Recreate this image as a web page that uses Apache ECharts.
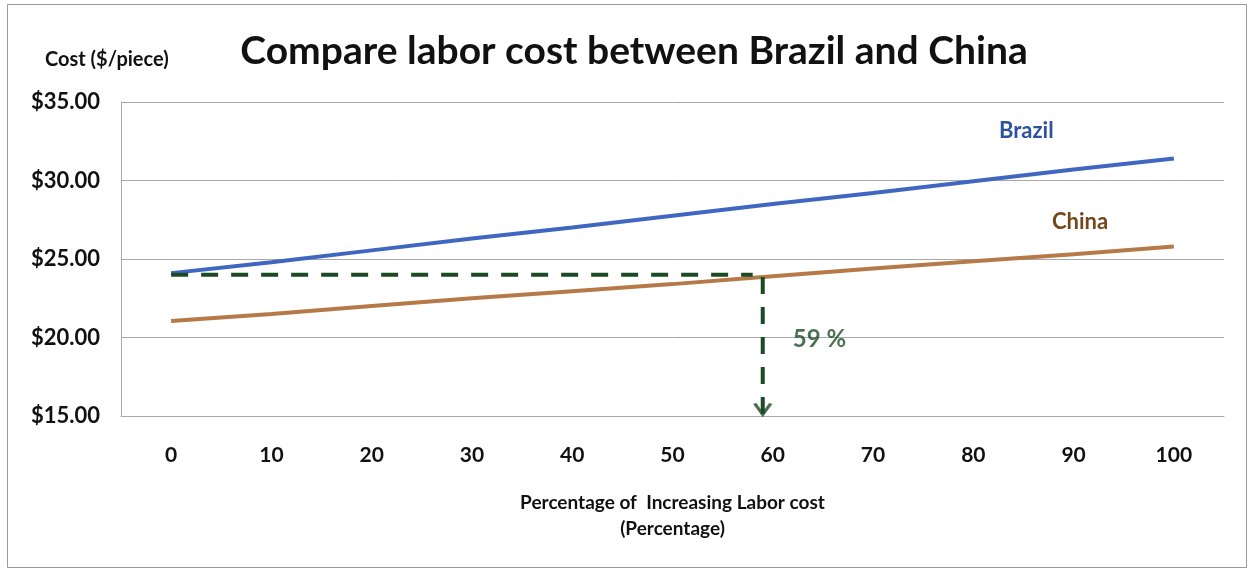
<!DOCTYPE html>
<html>
<head>
<meta charset="utf-8">
<script src="https://cdn.jsdelivr.net/npm/echarts@6/dist/echarts.min.js"></script>
<style>
  html, body { margin: 0; padding: 0; background: #ffffff; }
  #chart { width: 1249px; height: 571px; }
</style>
</head>
<body>
<div id="chart"></div>
<script>
// Increase of labor cost, in percent
const categories = ['0', '10', '20', '30', '40', '50', '60', '70', '80', '90', '100'];
// Cost per piece ($) at each increase step
const brazilCost = [24.1, 24.8, 25.55, 26.3, 27.0, 27.75, 28.5, 29.2, 29.95, 30.7, 31.4];
const chinaCost = [21.05, 21.5, 22.0, 22.5, 22.95, 23.4, 23.9, 24.4, 24.85, 25.3, 25.8];
// Break-even guide: Brazil's starting cost carried across to the China line
const breakEvenCost = 24.0;
const breakEvenPct = 59;
const guideEndPct = 58;
const chinaAtBreakEven = 23.85;
const yTicks = { min: 15, max: 35, step: 5 };

const FONT = 'Lato, "Open Sans", "Noto Sans", sans-serif';
const GUIDE = '#1c4a24';

const chart = echarts.init(document.getElementById('chart'));

chart.setOption({
  backgroundColor: '#ffffff',
  animation: false,
  textStyle: { fontFamily: FONT },
  title: {
    text: 'Compare labor cost between Brazil and China',
    left: 629, top: 27, textAlign: 'center',
    textStyle: { fontFamily: FONT, fontSize: 39, fontWeight: 'bold', color: '#111' }
  },
  graphic: [
    { type: 'rect', left: 5, top: 2, shape: { width: 1239, height: 563 },
      style: { fill: 'none', stroke: '#9a9a9a', lineWidth: 1 }, silent: true },
    { type: 'text', left: 45, top: 50,
      style: { text: 'Cost ($/piece)', font: 'bold 20px ' + FONT, fill: '#111' } },
    { type: 'text', left: 999, top: 120,
      style: { text: 'Brazil', font: 'bold 22px ' + FONT, fill: '#2d52a0' } },
    { type: 'text', left: 1052, top: 211,
      style: { text: 'China', font: 'bold 22px ' + FONT, fill: '#74461c' } }
  ],
  grid: { left: 121, right: 25, top: 102, bottom: 155 },
  xAxis: [
    {
      type: 'category', data: categories, boundaryGap: true,
      axisLine: { show: true, onZero: false, lineStyle: { color: '#a8a8a8', width: 1 } },
      axisTick: { show: false },
      axisLabel: { margin: 29, fontSize: 21, fontWeight: 'bold', color: '#111', fontFamily: FONT },
      name: 'Percentage of  Increasing Labor cost\n(Percentage)',
      nameLocation: 'middle', nameGap: 74,
      nameTextStyle: { fontSize: 19, fontWeight: 'bold', color: '#111', lineHeight: 26, fontFamily: FONT }
    },
    { type: 'value', min: -5, max: 105, show: false }
  ],
  yAxis: {
    type: 'value', min: yTicks.min, max: yTicks.max, interval: yTicks.step,
    axisLine: { show: true, onZero: false, lineStyle: { color: '#a8a8a8', width: 1 } },
    axisTick: { show: false },
    splitLine: { lineStyle: { color: '#a8a8a8', width: 1 } },
    axisLabel: {
      margin: 21, fontSize: 22, fontWeight: 'bold', color: '#111', fontFamily: FONT,
      formatter: v => '$' + v.toFixed(2)
    }
  },
  series: [
    {
      name: 'Brazil', type: 'line', xAxisIndex: 0, data: brazilCost,
      showSymbol: false, lineStyle: { color: '#3f67c2', width: 4 }, z: 3
    },
    {
      name: 'China', type: 'line', xAxisIndex: 0, data: chinaCost,
      showSymbol: false, lineStyle: { color: '#b57a48', width: 4 }, z: 3
    },
    {
      name: 'guide-horizontal', type: 'line', xAxisIndex: 1,
      data: [[0, breakEvenCost], [guideEndPct, breakEvenCost]],
      showSymbol: false,
      lineStyle: { color: GUIDE, width: 4, type: [17, 13] }, z: 4
    },
    {
      name: 'guide-vertical', type: 'line', xAxisIndex: 1,
      data: [[breakEvenPct, chinaAtBreakEven], [breakEvenPct, yTicks.min + 0.15]],
      showSymbol: false,
      lineStyle: { color: GUIDE, width: 4, type: [17, 13] }, z: 4
    },
    {
      name: 'guide-arrow', type: 'scatter', xAxisIndex: 1,
      data: [[breakEvenPct, yTicks.min + 0.45]],
      symbol: 'path://M0,0L10,10L20,0', symbolSize: [16, 11],
      itemStyle: { color: 'none', borderColor: GUIDE, borderWidth: 3 }, z: 5
    },
    {
      name: 'guide-label', type: 'scatter', xAxisIndex: 1,
      data: [[breakEvenPct, 19.9]],
      symbolSize: 0,
      label: {
        show: true, position: 'right', distance: 30,
        formatter: breakEvenPct + ' %',
        fontSize: 24, fontWeight: 'bold', color: '#1b4f26', fontFamily: FONT
      }, z: 5
    }
  ]
});
</script>
</body>
</html>
